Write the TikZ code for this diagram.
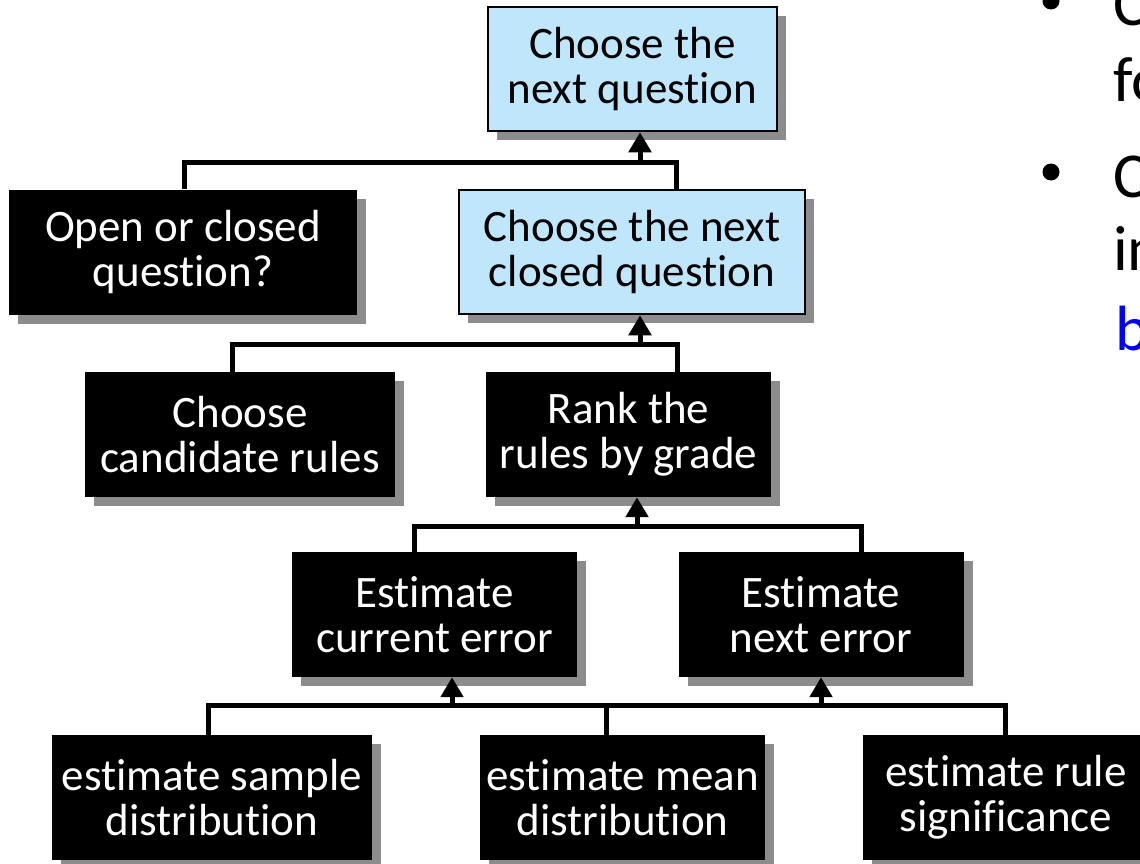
\documentclass[tikz,border=0pt]{standalone}
\usepackage{fontspec}
\setmainfont{Carlito}[Ligatures=NoCommon]
\usepackage{tikz}
\usetikzlibrary{arrows.meta,shadows,positioning}
\definecolor{lightq}{RGB}{192,230,252}
\definecolor{shadowgray}{RGB}{140,140,140}
\definecolor{bulletblue}{RGB}{0,0,255}
\tikzset{
  box/.style={minimum width=285pt,minimum height=125pt,inner sep=0pt,align=center,
    font=\fontsize{45}{45}\selectfont,
    drop shadow={shadow xshift=9pt,shadow yshift=-9pt,fill=shadowgray,opacity=1}},
  darkbox/.style={box,fill=black,text=white},
  lightbox/.style={box,fill=lightq,draw=black,line width=2.5pt},
  link/.style={line width=5pt},
  up/.style={link,-{Triangle[width=22pt,length=20pt]}},
  slide/.style={anchor=base west,inner sep=0pt,font=\fontsize{64}{76}\selectfont},
  dot/.style={circle,fill=black,minimum size=17pt,inner sep=0pt}
}

\begin{document}
\begin{tikzpicture}[x=1pt,y=-1pt]
\useasboundingbox (0,0) rectangle (1140,864);
\clip (0,0) rectangle (1140,864);
\node[lightbox,minimum width=289pt,minimum height=124pt] (next) at (632.5,69) {Choose the\\next question};
\node[darkbox,minimum width=348pt] (open) at (183,252) {Open or closed\\question?};
\node[lightbox,minimum width=346pt,minimum height=124pt] (closed) at (632,252) {Choose the next\\closed question};
\node[darkbox,minimum width=310pt] (cand) at (240,434.5) {Choose\\candidate rules};
\node[darkbox] (rank) at (628.5,434.5) {Rank the\\rules by grade};
\node[darkbox] (curerr) at (434.5,614.5) {Estimate\\current error};
\node[darkbox] (nexterr) at (821,614.5) {Estimate\\next error};
\node[darkbox,minimum width=320pt] (sample) at (212,797.5) {estimate sample\\distribution};
\node[darkbox] (mean) at (622.5,797.5) {estimate mean\\distribution};
\node[darkbox,minimum width=286pt] (signif) at (1006,797.5) {estimate rule\\significance};
\coordinate (j1) at (640,162);
\coordinate (j1l) at (184,162);
\coordinate (j1r) at (676,162);
\draw[link] (j1l |- open.north) to (j1l) to (j1r) to (j1r |- closed.north);
\draw[up] (j1) to (j1 |- next.south);
\coordinate (j2) at (640,344);
\coordinate (j2l) at (232,344);
\coordinate (j2r) at (677,344);
\draw[link] (j2l |- cand.north) to (j2l) to (j2r) to (j2r |- rank.north);
\draw[up] (j2) to (j2 |- closed.south);
\coordinate (j3) at (637,526);
\coordinate (j3l) at (414,526);
\coordinate (j3r) at (861,526);
\draw[link] (j3l |- curerr.north) to (j3l) to (j3r) to (j3r |- nexterr.north);
\draw[up] (j3) to (j3 |- rank.south);
\coordinate (j4a) at (452,705);
\coordinate (j4b) at (821,705);
\coordinate (j4l) at (208,705);
\coordinate (j4m) at (606,705);
\coordinate (j4r) at (1005,705);
\draw[link] (j4l |- sample.north) to (j4l) to (j4r) to (j4r |- signif.north);
\draw[link] (j4m) to (j4m |- mean.north);
\draw[up] (j4a) to (j4a |- curerr.south);
\draw[up] (j4b) to (j4b |- nexterr.south);
\node[dot] (d1) at (1051,1) {};
\node[dot] (d2) at (1051,172) {};
\node[slide] (t1) at (1113,26) {C};
\node[slide] (t2) at (1113,102) {fo};
\node[slide] (t3) at (1113,197) {C};
\node[slide] (t4) at (1113,270) {in};
\node[slide,text=bulletblue] (t5) at (1115,350) {b};
\end{tikzpicture}
\end{document}
